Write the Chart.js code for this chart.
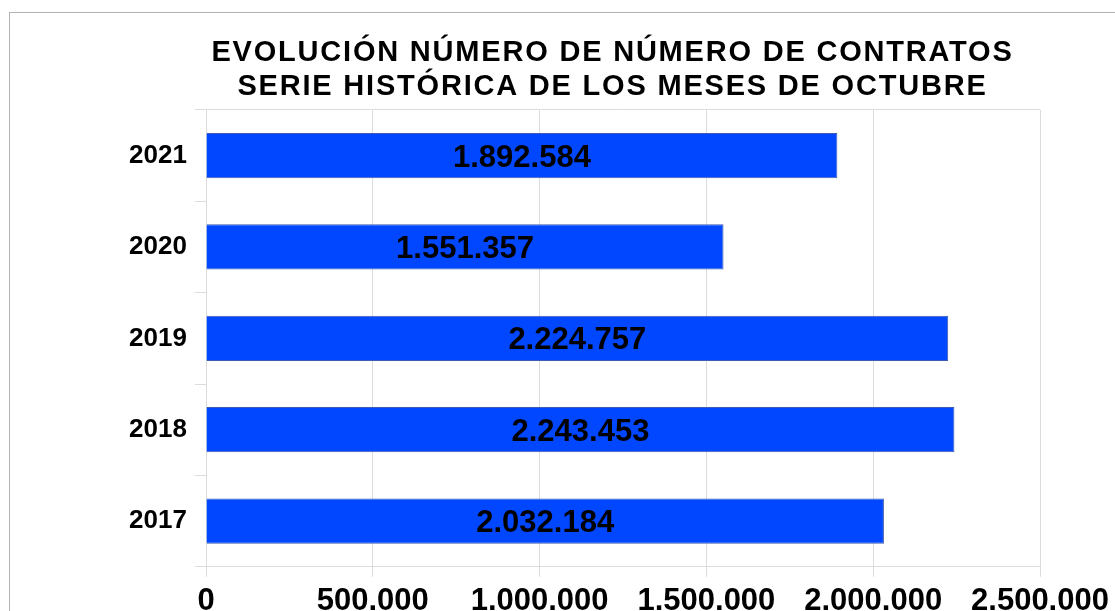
<!DOCTYPE html>
<html lang="es">
<head>
<meta charset="utf-8">
<title>Evolución número de contratos</title>
<script src="https://cdn.jsdelivr.net/npm/chart.js@4"></script>
<style>
  html, body { margin: 0; padding: 0; background: #fff; overflow: hidden; }
  .frame { position: absolute; left: 9px; top: 12px; width: 1200px; height: 700px; border: 1px solid #b3b3b3; }
  .wrap { position: absolute; left: 0; top: 0; width: 1115px; height: 626px; }
</style>
</head>
<body>
<div class="frame"></div>
<div class="wrap"><canvas id="contratosChart"></canvas></div>
<script>
// Datos: contratos de los meses de octubre
const YEARS = ['2021', '2020', '2019', '2018', '2017'];
const CONTRATOS = [1892584, 1551357, 2224757, 2243453, 2032184];
const X_MAX = 2500000;
const X_STEP = 500000;

const COLORS = {
  bar: '#0047ff',
  barBorder: '#3f5db0',
  grid: '#dcdcdc',
  text: '#000000'
};

const FONT = "'Liberation Sans', Arial, sans-serif";

// 1.892.584
function fmt(v) {
  return String(Math.round(v)).replace(/\B(?=(\d{3})+(?!\d))/g, '.');
}

// etiquetas de valor centradas en cada barra
const barLabels = {
  id: 'barLabels',
  afterDatasetsDraw(chart) {
    const ctx = chart.ctx;
    const meta = chart.getDatasetMeta(0);
    ctx.save();
    ctx.font = 'bold 31px ' + FONT;
    ctx.fillStyle = COLORS.text;
    ctx.textAlign = 'center';
    ctx.textBaseline = 'alphabetic';
    meta.data.forEach((bar, i) => {
      const cx = (bar.x + bar.base) / 2;
      ctx.fillText(fmt(CONTRATOS[i]), cx, bar.y + 11);
    });
    ctx.restore();
  }
};

// el título del original va algo más espaciado
const titleSpacing = {
  id: 'titleSpacing',
  afterInit(chart) {
    const tb = chart.titleBlock;
    if (!tb) return;
    const orig = tb.draw;
    tb.draw = function (area) {
      const c = this.ctx;
      c.save();
      c.letterSpacing = '1.8px';
      orig.call(this, area);
      c.restore();
    };
  }
};

new Chart(document.getElementById('contratosChart'), {
  type: 'bar',
  data: {
    labels: YEARS,
    datasets: [{
      data: CONTRATOS,
      backgroundColor: COLORS.bar,
      borderColor: COLORS.barBorder,
      borderWidth: 1,
      barPercentage: 0.495,
      categoryPercentage: 1
    }]
  },
  options: {
    indexAxis: 'y',
    responsive: true,
    maintainAspectRatio: false,
    animation: false,
    layout: { padding: { left: 185, right: 75, top: 0, bottom: 0 } },
    plugins: {
      legend: { display: false },
      tooltip: { enabled: false },
      title: {
        display: true,
        text: ['EVOLUCIÓN NÚMERO DE NÚMERO DE CONTRATOS', 'SERIE HISTÓRICA DE LOS MESES DE OCTUBRE'],
        color: COLORS.text,
        font: { family: FONT, size: 29, weight: 'bold', lineHeight: 1.17 },
        padding: { top: 36, bottom: 6 }
      }
    },
    scales: {
      x: {
        min: 0,
        max: X_MAX,
        ticks: {
          stepSize: X_STEP,
          color: COLORS.text,
          padding: 6,
          maxRotation: 0,
          font: { family: FONT, size: 31, weight: 'bold' },
          callback: v => fmt(v)
        },
        grid: { color: COLORS.grid, tickLength: 10 },
        border: { color: COLORS.grid }
      },
      y: {
        afterFit: s => { s.width = 21; },
        ticks: {
          mirror: true,
          padding: -77,
          color: COLORS.text,
          font: { family: FONT, size: 26, weight: 'bold' }
        },
        grid: {
          offset: true,
          tickLength: 11,
          tickColor: COLORS.grid,
          color: c => (c.index === 0 || c.type === 'scale') ? COLORS.grid : 'rgba(0,0,0,0)'
        },
        border: { color: COLORS.grid }
      }
    }
  },
  plugins: [barLabels, titleSpacing]
});
</script>
</body>
</html>
